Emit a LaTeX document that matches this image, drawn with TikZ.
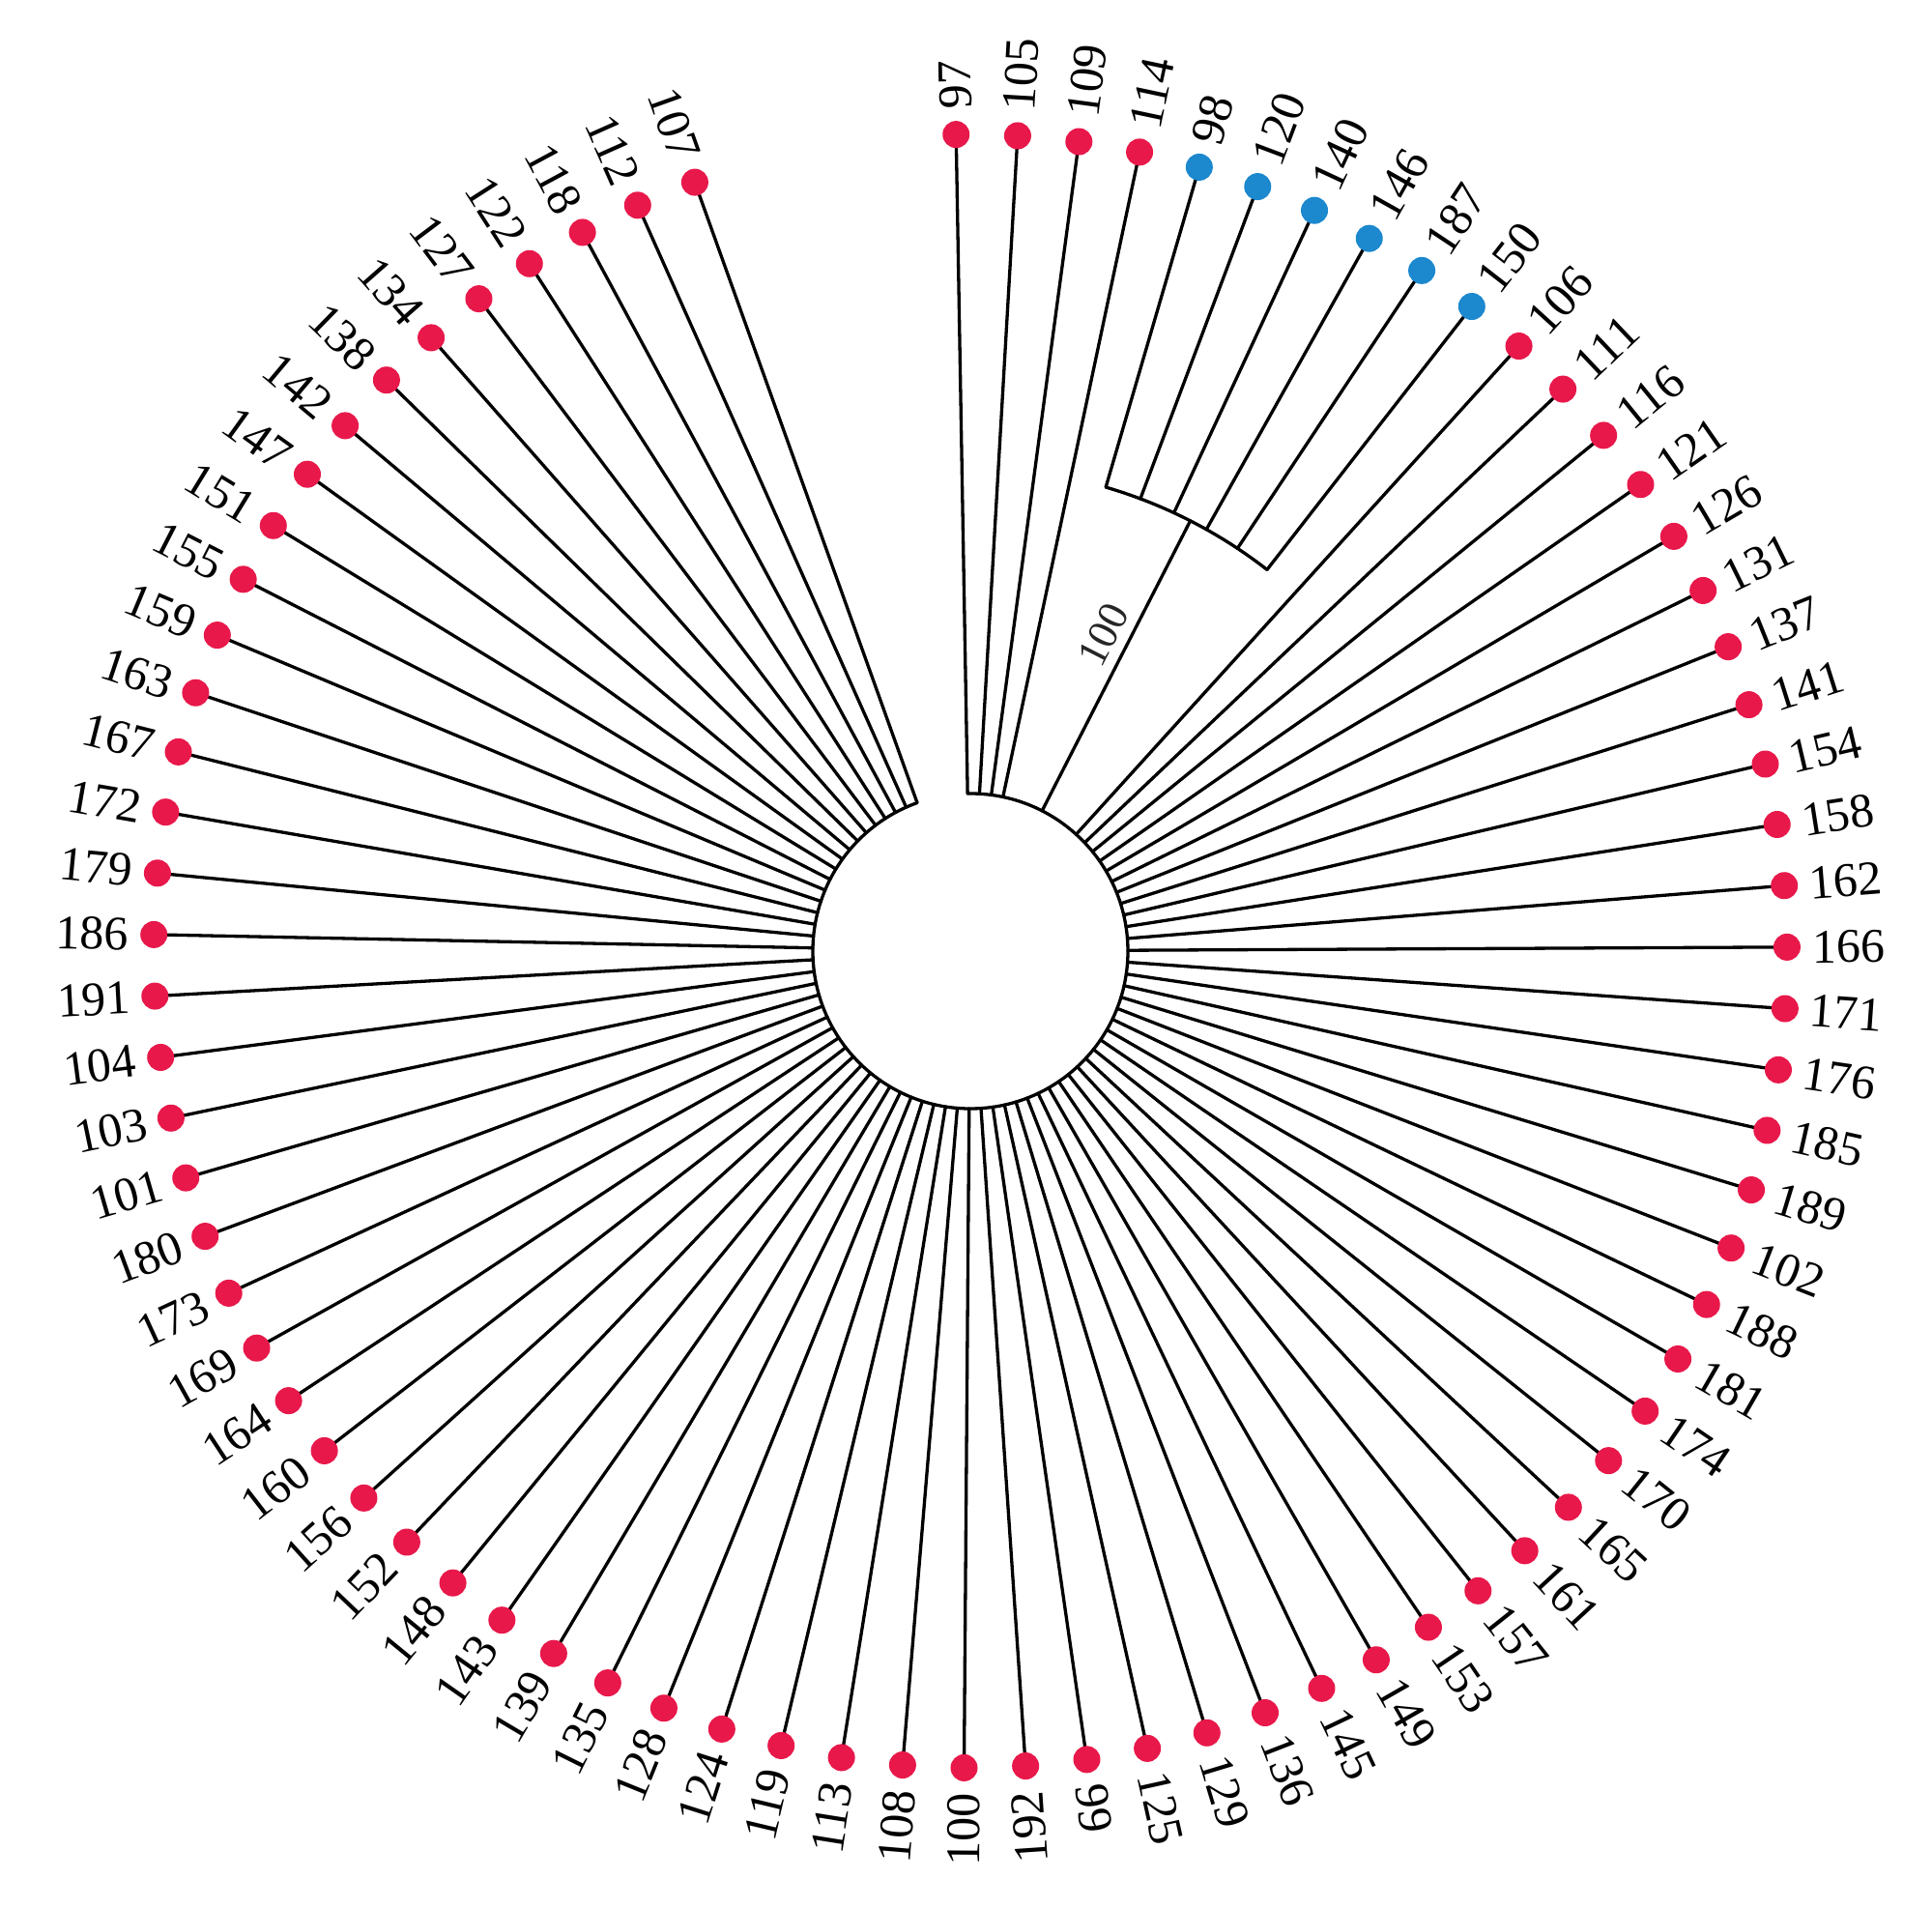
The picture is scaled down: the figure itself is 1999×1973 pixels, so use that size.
\documentclass[tikz,border=0pt]{standalone}
\usepackage{fontspec}
\setmainfont{Liberation Serif}
\definecolor{leafred}{RGB}{232,24,74}
\definecolor{leafblue}{RGB}{28,136,206}
\tikzset{
  branch/.style={line width=3.3pt, black, line cap=round},
  leafdot/.style={circle, fill=#1, draw=none, inner sep=0pt, minimum size=28pt},
  leaflab/.style={inner sep=0pt, font=\fontsize{50}{60}\selectfont},
  bootlab/.style={inner sep=0pt, font=\fontsize{44}{52}\selectfont, text=black!85},
}
\begin{document}
\begin{tikzpicture}[x=1pt,y=1pt]
\useasboundingbox (-1004pt,-989pt) rectangle (995pt,984pt);
% main backbone arc
\draw[branch] (91:163pt) arc[start angle=91, end angle=-250.28, radius=163pt];
% clade stem and arc
\coordinate (C0) at (62.92:163pt);
\coordinate (C1) at (62.92:500pt);
\draw[branch] (C0) -- (C1);
\draw[branch] (73.72:500pt) arc[start angle=73.72, end angle=52.12, radius=500pt];
\node[bootlab, rotate=62.9] (B) at (67.2:355pt) {100};
% leaves
\foreach \lab [count=\n from 0] in {97,105,109,114,98,120,140,146,187,150,106,111,116,121,126,131,137,141,154,158,162,166,171,176,185,189,102,188,181,174,170,165,161,157,153,149,145,136,129,125,99,192,100,108,113,119,124,128,135,139,143,148,152,156,160,164,169,173,180,101,103,104,191,186,179,172,167,163,159,155,151,147,142,138,134,127,122,118,112,107}{
  \pgfmathsetmacro\ang{91-4.32*\n}
  \pgfmathtruncatemacro\isclade{(\n>3)&&(\n<10)}
  \pgfmathtruncatemacro\isflip{\ang<-85}
  \ifnum\isclade=1 \def\rin{500pt}\def\col{leafblue}\else\def\rin{163pt}\def\col{leafred}\fi
  \coordinate (I\n) at (\ang:\rin);
  \coordinate (P\n) at (\ang:845pt);
  \draw[branch] (I\n) -- (P\n);
  \node[leafdot=\col] (L\n) at (P\n) {};
  \ifnum\isflip=1
    \node[leaflab, anchor=east, rotate=\ang+180] (T\n) at (\ang:871pt) {\lab};
  \else
    \node[leaflab, anchor=west, rotate=\ang] (T\n) at (\ang:871pt) {\lab};
  \fi
}
\end{tikzpicture}
\end{document}
